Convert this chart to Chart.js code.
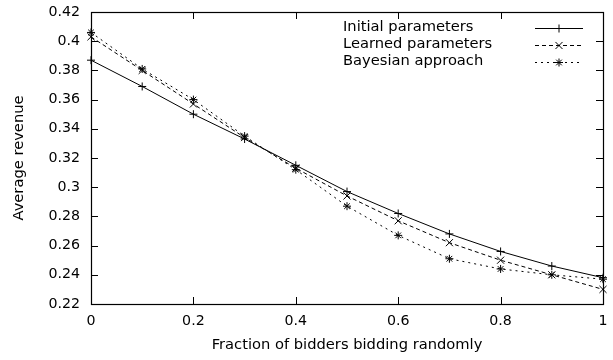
<!DOCTYPE html>
<html>
<head>
<meta charset="utf-8">
<script src="https://cdn.jsdelivr.net/npm/chart.js@4"></script>
<style>
  html, body { margin: 0; padding: 0; background: #fff; }
  #wrap { width: 613px; height: 360px; }
</style>
</head>
<body>
<div id="wrap"><canvas id="c" width="613" height="360"></canvas></div>
<script>
const fractions = [0, 0.1, 0.2, 0.3, 0.4, 0.5, 0.6, 0.7, 0.8, 0.9, 1];
const initialParams = [0.387, 0.369, 0.350, 0.333, 0.315, 0.297, 0.282, 0.268, 0.256, 0.246, 0.238];
const learnedParams = [0.403, 0.380, 0.357, 0.334, 0.313, 0.294, 0.277, 0.262, 0.250, 0.240, 0.230];
const bayesian      = [0.406, 0.381, 0.360, 0.335, 0.312, 0.287, 0.267, 0.251, 0.244, 0.240, 0.237];
const seriesNames = ['Initial parameters', 'Learned parameters', 'Bayesian approach'];
const xTicks = [0, 0.2, 0.4, 0.6, 0.8, 1];
const yTicks = [0.22, 0.24, 0.26, 0.28, 0.3, 0.32, 0.34, 0.36, 0.38, 0.4, 0.42];

const FONT = 'DejaVu Sans';

function pts(arr) { return fractions.map((x, i) => ({ x: x, y: arr[i] })); }

function ds(label, data, dash, style, radius) {
  return {
    label: label, data: pts(data),
    borderColor: '#000', backgroundColor: '#000',
    borderWidth: 1, borderDash: dash,
    pointStyle: style, pointRadius: radius, pointHoverRadius: radius,
    pointBorderWidth: 1, pointBorderColor: '#000',
    tension: 0, fill: false, clip: false
  };
}

const framePlugin = {
  id: 'frame',
  afterDraw(chart) {
    const ctx = chart.ctx, a = chart.chartArea;
    const xs = chart.scales.x, ys = chart.scales.y;
    const TL = 7;
    ctx.save();
    ctx.strokeStyle = '#000';
    ctx.lineWidth = 1;
    ctx.setLineDash([]);
    ctx.beginPath();
    xTicks.forEach(v => {
      const px = Math.round(xs.getPixelForValue(v)) + 0.5;
      ctx.moveTo(px, a.bottom); ctx.lineTo(px, a.bottom - TL);
      ctx.moveTo(px, a.top); ctx.lineTo(px, a.top + TL);
    });
    yTicks.forEach(v => {
      const py = Math.round(ys.getPixelForValue(v)) + 0.5;
      ctx.moveTo(a.left, py); ctx.lineTo(a.left + TL, py);
      ctx.moveTo(a.right, py); ctx.lineTo(a.right - TL, py);
    });
    ctx.stroke();
    ctx.lineWidth = 1.2;
    ctx.strokeRect(Math.round(a.left) + 0.5, Math.round(a.top) + 0.5,
                   Math.round(a.right - a.left), Math.round(a.bottom - a.top));
    ctx.restore();
  }
};

const legendPlugin = {
  id: 'gnuLegend',
  afterDraw(chart) {
    const ctx = chart.ctx;
    const rows = [27.5, 44.5, 61.5];
    ctx.save();
    chart.data.datasets.forEach((d, i) => {
      const y = rows[i];
      ctx.fillStyle = '#000';
      ctx.font = '14.7px "' + FONT + '"';
      ctx.textAlign = 'left';
      ctx.textBaseline = 'middle';
      ctx.fillText(d.label, 343, y);
      ctx.strokeStyle = '#000';
      ctx.lineWidth = 1;
      ctx.setLineDash(d.borderDash || []);
      ctx.beginPath();
      ctx.moveTo(535, Math.round(y) + 0.5);
      ctx.lineTo(583, Math.round(y) + 0.5);
      ctx.stroke();
      ctx.setLineDash([]);
      if (Chart.helpers && Chart.helpers.drawPoint) {
        Chart.helpers.drawPoint(ctx, { pointStyle: d.pointStyle, radius: d.pointRadius, borderWidth: 1 }, 559, Math.round(y) + 0.5);
      }
    });
    ctx.restore();
  }
};

new Chart(document.getElementById('c'), {
  type: 'line',
  data: {
    datasets: [
      ds(seriesNames[0], initialParams, [], 'cross', 4),
      ds(seriesNames[1], learnedParams, [4, 3], 'crossRot', 5),
      ds(seriesNames[2], bayesian, [2, 4], 'star', 4)
    ]
  },
  options: {
    responsive: false,
    animation: false,
    devicePixelRatio: 1,
    layout: { padding: { left: 0, right: 10, top: 12, bottom: 0 } },
    plugins: { legend: { display: false }, tooltip: { enabled: false } },
    scales: {
      x: {
        type: 'linear', min: 0, max: 1,
        afterBuildTicks(s) { s.ticks = xTicks.map(v => ({ value: v })); },
        afterFit(s) { s.height = 56; s.paddingLeft = 0; s.paddingRight = 0; },
        grid: { display: false, drawTicks: false },
        border: { display: false },
        ticks: {
          padding: 9, color: '#000', maxRotation: 0, autoSkip: false,
          font: { family: FONT, size: 14.2 },
          callback: v => String(+(+v).toFixed(2))
        },
        title: {
          display: true, text: 'Fraction of bidders bidding randomly', color: '#000',
          font: { family: FONT, size: 14.7 }, padding: { top: 0, bottom: 6 }
        }
      },
      y: {
        type: 'linear', min: 0.22, max: 0.42,
        afterBuildTicks(s) { s.ticks = yTicks.map(v => ({ value: v })); },
        afterFit(s) { s.width = 91; s.paddingTop = 0; s.paddingBottom = 0; },
        grid: { display: false, drawTicks: false },
        border: { display: false },
        ticks: {
          padding: 11, color: '#000', autoSkip: false,
          font: { family: FONT, size: 14.2 },
          callback: v => String(+(+v).toFixed(2))
        },
        title: {
          display: true, text: 'Average revenue', color: '#000',
          font: { family: FONT, size: 14.7 }, padding: { top: 10, bottom: 0 }
        }
      }
    }
  },
  plugins: [framePlugin, legendPlugin]
});
</script>
</body>
</html>
